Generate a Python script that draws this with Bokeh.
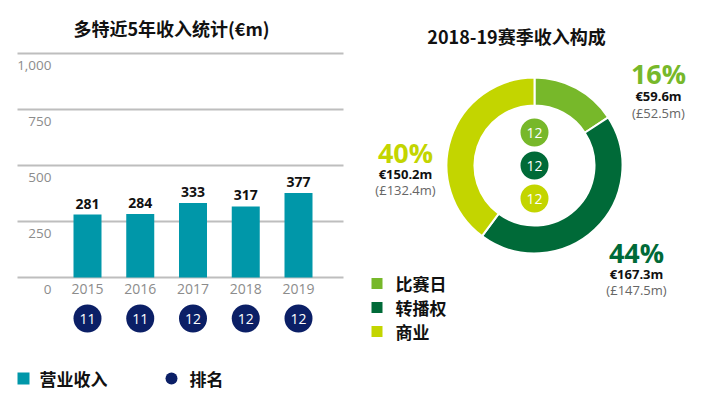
import math
from bokeh.plotting import figure
from bokeh.layouts import row
from bokeh.models import Range1d, ColumnDataSource
from bokeh.core.properties import value
from bokeh.embed import file_html
from bokeh.resources import INLINE

# ---------------- data ----------------
years = ["2015", "2016", "2017", "2018", "2019"]
revenue = [281, 284, 333, 317, 377]
ranks = ["11", "11", "12", "12", "12"]
y_ticks = [0, 250, 500, 750, 1000]
y_tick_labels = ["0", "250", "500", "750", "1,000"]

left_title = "多特近5年收入统计(€m)"
right_title = "2018-19赛季收入构成"

segments = ["比赛日", "转播权", "商业"]
seg_eur = [59.6, 167.3, 150.2]
seg_pct = ["16%", "44%", "40%"]
seg_eur_lbl = ["€59.6m", "€167.3m", "€150.2m"]
seg_gbp_lbl = ["(£52.5m)", "(£147.5m)", "(£132.4m)"]
seg_rank = ["12", "12", "12"]

TEAL = "#0097A9"
NAVY = "#0B1F66"
GREENS = ["#77B82A", "#006A38", "#C3D500"]
GRAY_TXT = "#8C8C8C"
GRID = "#BEBEBE"
CJK = value("Noto Sans CJK SC")
NUM = value("Open Sans")

SPLIT, RIGHT, BOTTOM = 356, 712, 395

# ---------------- left figure (bar chart) ----------------
X0, DX = 87.0, 52.75          # centre of first bar, bar spacing (px)
Y0, SY = 277.0, 0.224         # baseline pixel, px per unit
def xi(px):
    return (px - X0) / DX
def vy(py):
    return (Y0 - py) / SY

p1 = figure(width=SPLIT, height=BOTTOM, output_backend="svg", toolbar_location=None,
            x_range=Range1d(xi(0), xi(SPLIT)), y_range=Range1d(vy(BOTTOM), vy(0)),
            min_border=0, x_axis_location=None, y_axis_location=None)
p1.grid.visible = False
p1.outline_line_color = None

idx = list(range(len(years)))

p1.segment(x0=[xi(17)] * len(y_ticks), x1=[xi(343)] * len(y_ticks),
           y0=y_ticks, y1=y_ticks, line_color=GRID, line_width=2)
p1.text(x=[xi(51)] * len(y_ticks), y=[t - 12 / SY for t in y_ticks], text=y_tick_labels,
        text_align="right", text_baseline="middle", text_font=NUM,
        text_font_size="13.5px", text_color=GRAY_TXT)

src = ColumnDataSource(dict(x=idx, top=revenue, lbl=[str(v) for v in revenue],
                            lbl_y=[v + 11 / SY for v in revenue],
                            yr=years, yr_y=[vy(288)] * len(years),
                            rk=ranks, rk_y=[vy(318)] * len(years)))
p1.vbar(x="x", top="top", bottom=0, width=28 / DX, source=src,
        fill_color=TEAL, line_color=None)
p1.text(x="x", y="lbl_y", text="lbl", source=src,
        text_align="center", text_baseline="middle", text_font=NUM,
        text_font_size="14px", text_font_style="bold", text_color="#111111")
p1.text(x="x", y="yr_y", text="yr", source=src,
        text_align="center", text_baseline="middle", text_font=NUM,
        text_font_size="14px", text_color=GRAY_TXT)
p1.scatter(x="x", y="rk_y", size=28, marker="circle", source=src,
           fill_color=NAVY, line_color=None)
p1.text(x="x", y="rk_y", text="rk", source=src,
        text_align="center", text_baseline="middle", text_font=NUM,
        text_font_size="14px", text_color="white")

p1.text(x=[xi(171)], y=[vy(27)], text=[left_title], text_align="center",
        text_baseline="middle", text_font=CJK, text_font_size="18px",
        text_font_style="bold", text_color="#111111")
p1.scatter(x=[xi(23)], y=[vy(378)], size=12, marker="square",
           fill_color=TEAL, line_color=None)
p1.text(x=[xi(39)], y=[vy(378)], text=["营业收入"], text_align="left",
        text_baseline="middle", text_font=CJK, text_font_size="17px",
        text_font_style="bold", text_color="#111111")
p1.scatter(x=[xi(171)], y=[vy(378)], size=12, marker="circle",
           fill_color=NAVY, line_color=None)
p1.text(x=[xi(189)], y=[vy(378)], text=["排名"], text_align="left",
        text_baseline="middle", text_font=CJK, text_font_size="17px",
        text_font_style="bold", text_color="#111111")

# ---------------- right figure (donut) ----------------
CX, CY = 534.0, 165.0
def rx(px):
    return px - CX
def ry(py):
    return CY - py

p2 = figure(width=RIGHT - SPLIT, height=BOTTOM, output_backend="svg", toolbar_location=None,
            x_range=Range1d(rx(SPLIT), rx(RIGHT)), y_range=Range1d(ry(BOTTOM), ry(0)),
            min_border=0, x_axis_location=None, y_axis_location=None)
p2.grid.visible = False
p2.outline_line_color = None

total = sum(seg_eur)
starts, ends = [], []
a = math.pi / 2
for v in seg_eur:
    starts.append(a)
    a -= v / total * 2 * math.pi
    ends.append(a)
p2.annular_wedge(x=0, y=0, inner_radius=60, outer_radius=88,
                 start_angle=starts, end_angle=ends, direction="clock",
                 fill_color=GREENS, line_color="white", line_width=2)

inner_y = [ry(132), ry(165), ry(198)]
p2.scatter(x=[0] * 3, y=inner_y, size=28, marker="circle",
           fill_color=GREENS, line_color=None)
p2.text(x=[0] * 3, y=inner_y, text=seg_rank, text_align="center",
        text_baseline="middle", text_font=NUM, text_font_size="14px",
        text_color="white")

lab_x = [rx(658), rx(636), rx(405)]
lab_y = [ry(73), ry(252), ry(152)]
eur_y = [ry(95), ry(273), ry(173)]
gbp_y = [ry(112), ry(289), ry(189)]
p2.text(x=lab_x, y=lab_y, text=seg_pct, text_align="center", text_baseline="middle",
        text_font=NUM, text_font_size="27px", text_font_style="bold",
        text_color=GREENS)
p2.text(x=lab_x, y=eur_y, text=seg_eur_lbl, text_align="center", text_baseline="middle",
        text_font=NUM, text_font_size="13px", text_font_style="bold",
        text_color="#111111")
p2.text(x=lab_x, y=gbp_y, text=seg_gbp_lbl, text_align="center", text_baseline="middle",
        text_font=NUM, text_font_size="13px", text_color="#666666")

p2.text(x=[rx(516)], y=[ry(35)], text=[right_title], text_align="center",
        text_baseline="middle", text_font=CJK, text_font_size="18px",
        text_font_style="bold", text_color="#111111")

leg_y = [ry(283), ry(307), ry(331)]
p2.scatter(x=[rx(376.5)] * 3, y=leg_y, size=11, marker="square",
           fill_color=GREENS, line_color=None)
p2.text(x=[rx(395)] * 3, y=leg_y, text=segments, text_align="left",
        text_baseline="middle", text_font=CJK, text_font_size="17px",
        text_font_style="bold", text_color="#111111")

layout = row(p1, p2, spacing=0)
open("out.html", "w").write(file_html(layout, INLINE))
